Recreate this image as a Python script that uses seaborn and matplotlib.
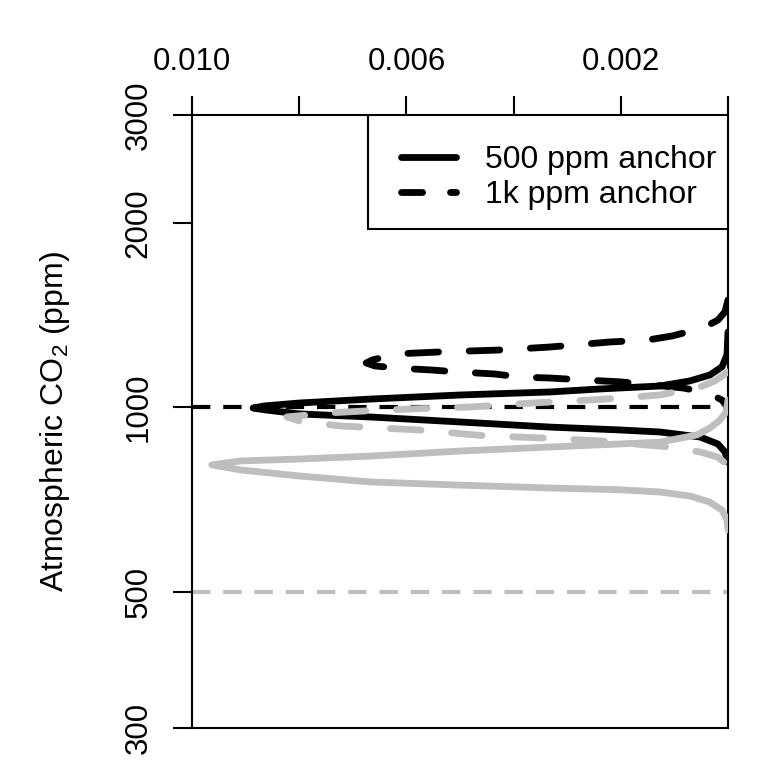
import matplotlib
matplotlib.use("Agg")
import matplotlib.pyplot as plt
from matplotlib.lines import Line2D
from matplotlib.patches import Rectangle
from matplotlib.ticker import NullLocator
import seaborn as sns

# ---------------- data (density vs atmospheric CO2) ----------------
black_solid_density = [0, 0.000019, 0.000112, 0.000336, 0.000709, 0.00127, 0.00239, 0.00332,
                       0.0050, 0.00668, 0.00799, 0.00864, 0.00886, 0.00864, 0.00799, 0.00668,
                       0.0050, 0.00332, 0.00201, 0.00127, 0.00052, 0.00019, 0.000056, 0]
black_solid_co2 = [1328, 1218, 1165, 1130, 1105, 1084, 1072, 1060,
                   1048, 1032, 1017, 1006, 998, 991, 976, 965,
                   947, 929, 919, 912, 895, 872, 846, 815]

black_dashed_density = [0, 0.000056, 0.000187, 0.000466, 0.001045, 0.00151, 0.0022, 0.00332,
                        0.00425, 0.00537, 0.00618, 0.00664, 0.00675, 0.00659, 0.00621, 0.00552,
                        0.00506, 0.00435, 0.00388, 0.00332, 0.0027, 0.00201, 0.00084, 0.00037,
                        0.00011, 0]
black_dashed_co2 = [1498, 1432, 1389, 1348, 1308, 1288, 1279, 1255,
                    1241, 1232, 1223, 1195, 1182, 1169, 1160, 1151,
                    1143, 1134, 1121, 1117, 1109, 1101, 1076, 1056,
                    1028, 998]

gray_solid_density = [0, 0.000037, 0.000149, 0.000336, 0.000578, 0.00127, 0.00201, 0.00332,
                      0.0050, 0.00668, 0.00799, 0.0091, 0.00963, 0.0091, 0.00799, 0.00668,
                      0.0050, 0.00332, 0.00201, 0.00127, 0.00071, 0.00034, 0.00011, 0.000019, 0]
gray_solid_co2 = [1028, 983, 954, 926, 902, 878, 872, 862,
                  849, 833, 824, 818, 806, 791, 773, 756,
                  747, 739, 734, 728, 717, 701, 680, 655, 631]

gray_dashed_density = [0, 0.000243, 0.000522, 0.00127, 0.00243, 0.00364, 0.0048, 0.00597,
                       0.00677, 0.00743, 0.00823, 0.00799, 0.00724, 0.00577, 0.00459, 0.00351,
                       0.00239, 0.00108, 0.00052, 0.00019, 0.000056, 0]
gray_dashed_co2 = [1143, 1105, 1080, 1048, 1030, 1017, 1002, 994,
                   987, 980, 965, 950, 933, 919, 900, 892,
                   882, 862, 846, 830, 812, 767]

reference_levels = [1000, 500]
legend_labels = ["500 ppm anchor", "1k ppm anchor"]
x_ticks = [0.010, 0.008, 0.006, 0.004, 0.002, 0.000]
x_tick_labels = ["0.010", "", "0.006", "", "0.002", ""]
y_ticks = [300, 500, 1000, 2000, 3000]
y_tick_labels = ["300", "500", "1000", "2000", "3000"]

# ---------------- style ----------------
sns.set_theme(style="white")
plt.rcParams["font.family"] = ["Liberation Sans", "DejaVu Sans"]
plt.rcParams["mathtext.fontset"] = "custom"
plt.rcParams["mathtext.rm"] = "Liberation Sans"
plt.rcParams["mathtext.it"] = "Liberation Sans:italic"
plt.rcParams["axes.linewidth"] = 1.5

GRAY = "#bebebe"
FS = 23
LW = 4.9

fig = plt.figure(figsize=(7.68, 7.68), dpi=100)
ax = fig.add_axes([192 / 768, 1 - 728 / 768, 536 / 768, 613 / 768])
ax.set_yscale("log")

# reference lines
for lvl, col in zip(reference_levels, ["black", GRAY]):
    ax.axhline(lvl, color=col, lw=3.0, ls=(0, (4.4, 3.1)), dash_capstyle="butt", zorder=1)

curves = [
    (black_solid_density, black_solid_co2, "black", False),
    (black_dashed_density, black_dashed_co2, "black", True),
    (gray_solid_density, gray_solid_co2, GRAY, False),
    (gray_dashed_density, gray_dashed_co2, GRAY, True),
]
for dens, co2, col, dashed in curves:
    sns.lineplot(x=dens, y=co2, sort=False, estimator=None, color=col, lw=LW, ax=ax, zorder=2)
    line = ax.lines[-1]
    line.set_solid_capstyle("round")
    line.set_solid_joinstyle("round")
    line.set_dash_joinstyle("round")
    if dashed:
        line.set_dashes((4.5, 4.5))
        line.set_dash_capstyle("round")

ax.set_xlim(0.010, 0.0)
ax.set_ylim(300, 3000)
ax.set_xlabel("")

ax.xaxis.tick_top()
ax.set_xticks(x_ticks)
ax.set_xticklabels(x_tick_labels)
ax.set_yticks(y_ticks)
ax.set_yticklabels(y_tick_labels)
ax.yaxis.set_minor_locator(NullLocator())
ax.xaxis.set_minor_locator(NullLocator())

ax.tick_params(axis="x", top=True, bottom=False, labeltop=True, labelbottom=False)
ax.tick_params(axis="y", left=True, right=False)
ax.tick_params(direction="out", length=13.7, width=1.5, labelsize=22.5, pad=14.0,
               color="black", labelcolor="black")
for lab in ax.get_yticklabels():
    lab.set_rotation(90)
    lab.set_va("center")

for s in ax.spines.values():
    s.set_color("black")
    s.set_linewidth(1.5)
    s.set_zorder(1.5)

ax.set_ylabel(r"Atmospheric CO$\mathregular{_2}$ (ppm)", fontsize=FS, color="black")
ax.yaxis.set_label_coords(-0.224, 0.5)

# legend: frame drawn as its own box, entries placed inside it
box_x0 = (368 - 192) / 536
box_y0 = (728 - 229) / 613
ax.add_patch(Rectangle((box_x0, box_y0), 1 - box_x0, 1 - box_y0, transform=ax.transAxes,
                       facecolor="white", edgecolor="black", lw=1.5, zorder=3))
handles = [
    Line2D([], [], color="black", lw=LW, solid_capstyle="round"),
    Line2D([], [], color="black", lw=LW, dashes=(3.1, 4.1), dash_capstyle="round"),
]
leg = ax.legend(handles, legend_labels, loc="upper right",
                bbox_to_anchor=((716 - 192) / 536, (728 - 145) / 613),
                borderaxespad=0, frameon=False, fontsize=FS, handlelength=1.72,
                handletextpad=0.9, borderpad=0.0, labelspacing=0.17)
leg.set_zorder(4)
for t in leg.get_texts():
    t.set_color("black")

fig.savefig("out.png", dpi=100)
